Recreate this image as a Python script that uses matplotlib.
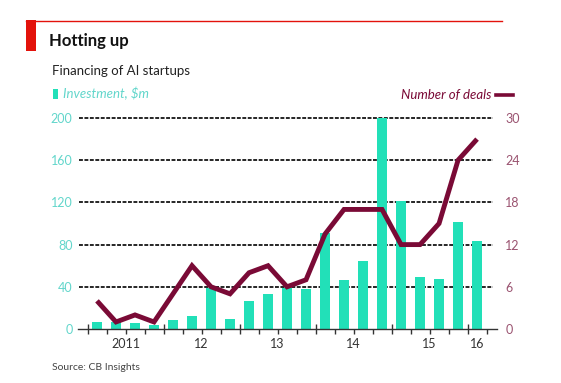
import matplotlib
matplotlib.use("Agg")
import matplotlib.pyplot as plt
from matplotlib.patches import Rectangle
from matplotlib.lines import Line2D

plt.rcParams['font.family'] = ['Lato', 'DejaVu Sans']

# Data: quarterly, 2011 Q1 .. 2016 Q1
quarters = ["2011Q1", "2011Q2", "2011Q3", "2011Q4",
            "2012Q1", "2012Q2", "2012Q3", "2012Q4",
            "2013Q1", "2013Q2", "2013Q3", "2013Q4",
            "2014Q1", "2014Q2", "2014Q3", "2014Q4",
            "2015Q1", "2015Q2", "2015Q3", "2015Q4",
            "2016Q1"]
investment = [7, 7, 6, 4, 8.5, 12, 39, 9.5, 27, 33, 39, 37.5,
              91, 46, 64, 200, 121, 49, 47, 101, 83]
deals = [4, 1, 2, 1, 5, 9, 6, 5, 8, 9, 6, 7,
         13.5, 17, 17, 17, 12, 12, 15, 24, 27]
year_labels = ["2011", "12", "13", "14", "15", "16"]
year_label_pos = [1.5, 5.5, 9.5, 13.5, 17.5, 20]
left_ticks = [0, 40, 80, 120, 160, 200]
right_ticks = [0, 6, 12, 18, 24, 30]

TURQ = "#22e0b8"
MAROON = "#7a0a36"
LTURQ = "#62d6cb"
RPINK = "#9a5370"

W, H = 561, 383
fig = plt.figure(figsize=(W / 100, H / 100), dpi=100)

ax_l, ax_r = 78 / W, 497 / W
ax_b, ax_t = 1 - 329 / H, 1 - 118 / H
ax = fig.add_axes([ax_l, ax_b, ax_r - ax_l, ax_t - ax_b])
ax2 = ax.twinx()

x = list(range(len(quarters)))
ax.set_xlim(-1.0, 21.05)
ax.set_ylim(0, 200)
ax2.set_ylim(0, 30)

# gridlines
for v in left_ticks[1:]:
    ax.plot([-0.95, 20.85], [v, v], color="#262626", lw=1.4,
            dashes=(2.0, 0.8), zorder=1, clip_on=False)

ax.bar(x, investment, width=0.55, color=TURQ, zorder=2)
ax2.plot(x, deals, color=MAROON, lw=3.5, solid_joinstyle="miter",
         solid_capstyle="butt", zorder=3)

for a in (ax, ax2):
    for s in ("top", "left", "right", "bottom"):
        a.spines[s].set_visible(False)
ax.spines["bottom"].set_visible(True)
ax.spines["bottom"].set_color("#333333")
ax.spines["bottom"].set_linewidth(1.0)

ax.set_zorder(ax2.get_zorder() - 1)
ax.patch.set_visible(False)
ax2.patch.set_visible(False)

# y ticks
ax.set_yticks(left_ticks)
ax.set_yticklabels([str(v) for v in left_ticks], color=LTURQ, fontsize=9)
ax.tick_params(axis="y", length=0, pad=4)
ax2.set_yticks(right_ticks)
ax2.set_yticklabels([str(v) for v in right_ticks], color=RPINK, fontsize=9)
ax2.tick_params(axis="y", length=0, pad=6)

# x ticks
majors = [-0.5, 3.5, 7.5, 11.5, 15.5, 19.5]
minors = [b - 0.5 for b in range(0, 22) if (b - 0.5) not in majors]
ax.set_xticks(majors)
ax.set_xticklabels([])
ax.set_xticks(minors, minor=True)
ax.tick_params(axis="x", which="major", direction="inout", length=7,
               width=1, color="#333333")
ax.tick_params(axis="x", which="minor", direction="out", length=3.5,
               width=1, color="#333333")
trans = ax.get_xaxis_transform()
for lab, p in zip(year_labels, year_label_pos):
    ax.text(p, -0.045, lab, transform=trans, ha="center", va="top",
            fontsize=9, color="#333333")

# header
fig.add_artist(Line2D([26 / W, 502 / W], [1 - 20.5 / H, 1 - 20.5 / H],
                      color="#e3120b", lw=1.0))
fig.add_artist(Rectangle((26 / W, 1 - 51 / H), 10 / W, 31 / H,
                         color="#e3120b", lw=0))
fig.text(49 / W, 1 - 46 / H, "Hotting up", fontsize=12, fontweight="bold",
         color="#111111", va="baseline")
fig.text(52 / W, 1 - 75 / H, "Financing of AI startups", fontsize=9.5,
         color="#222222", va="baseline")

# legends
fig.add_artist(Rectangle((53 / W, 1 - 99 / H), 5 / W, 10 / H, color=TURQ, lw=0))
fig.text(63 / W, 1 - 98.5 / H, "Investment, $m", fontsize=9.5, style="italic",
         color=LTURQ, va="baseline")
fig.text(491 / W, 1 - 98.5 / H, "Number of deals", fontsize=9.5, style="italic",
         color=MAROON, va="baseline", ha="right")
fig.add_artist(Line2D([496 / W, 513 / W], [1 - 94.5 / H, 1 - 94.5 / H],
                      color=MAROON, lw=2.6))

fig.text(52 / W, 1 - 370 / H, "Source: CB Insights", fontsize=7.5,
         color="#444444", va="baseline")

fig.savefig("out.png", dpi=100)
